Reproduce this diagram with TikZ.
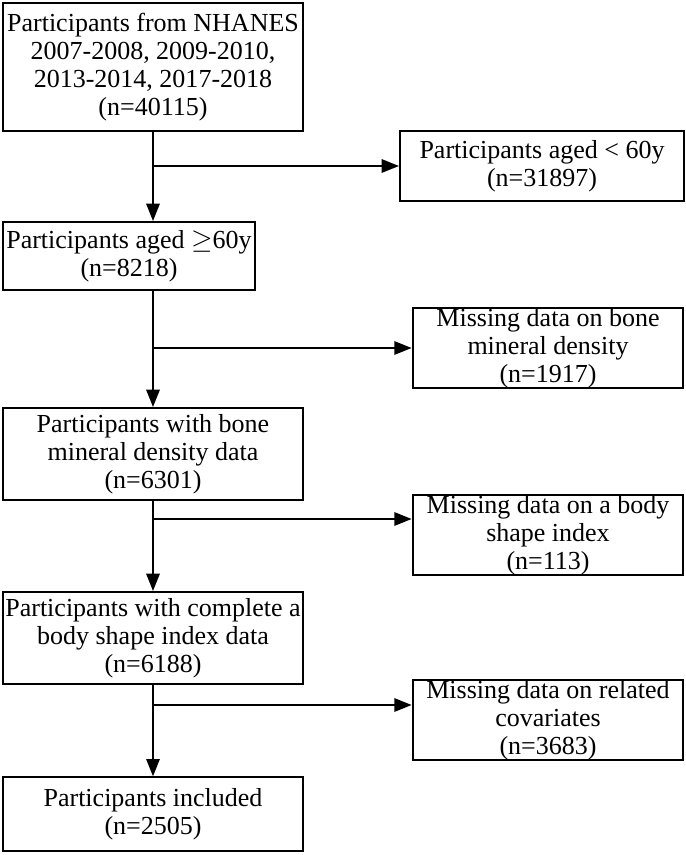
\documentclass[tikz,border=0pt]{standalone}
\usepackage{fontspec}
\setmainfont{Liberation Serif}
\usetikzlibrary{arrows.meta}
\tikzset{every picture/.style={line width=1.5pt}}
\tikzset{box/.style={draw, align=center, inner sep=0.5pt, font=\fontsize{19.5}{21}\selectfont}}
\tikzset{flow/.style={-{Triangle[length=13pt,width=10pt]}}}

\begin{document}
\begin{tikzpicture}[x=0.75pt,y=0.75pt,yscale=-1,xscale=1]
\useasboundingbox (0,0) rectangle (685,855);

% Main column
\node [box, minimum width=225pt, minimum height=96pt] (nhanes) at (153,67) {Participants from NHANES\\2007-2008, 2009-2010,\\2013-2014, 2017-2018\\(n=40115)};
\node [box, minimum width=189pt, minimum height=51pt] (aged) at (129,256) {Participants aged $\geq$60y\\(n=8218)};
\node [box, minimum width=225pt, minimum height=69pt] (bmd) at (153,454) {Participants with bone\\mineral density data\\(n=6301)};
\node [box, minimum width=225pt, minimum height=69pt] (absi) at (153,638) {Participants with complete a\\body shape index data\\(n=6188)};
\node [box, minimum width=225pt, minimum height=55pt] (incl) at (153,814) {Participants included\\(n=2505)};

% Exclusions
\node [box, minimum width=213pt, minimum height=52pt] (young) at (542,166) {Participants aged < 60y\\(n=31897)};
\node [box, minimum width=203pt, minimum height=55pt] (nobmd) at (548,348) {Missing data on bone\\mineral density\\(n=1917)};
\node [box, minimum width=203pt, minimum height=52pt] (noabsi) at (548,535) {Missing data on a body\\shape index\\(n=113)};
\node [box, minimum width=203pt, minimum height=55pt] (nocov) at (548,720) {Missing data on related\\covariates\\(n=3683)};

% Branch points
\coordinate (b1) at (153,166);
\coordinate (b2) at (153,348);
\coordinate (b3) at (153,519);
\coordinate (b4) at (153,705);

\draw [flow] (nhanes.south) -- (nhanes.south |- aged.north);
\draw [flow] (nhanes.south |- aged.south) -- (bmd.north);
\draw [flow] (bmd.south) -- (absi.north);
\draw [flow] (absi.south) -- (incl.north);

\draw [flow] (b1) -- (young.west);
\draw [flow] (b2) -- (nobmd.west);
\draw [flow] (b3) -- (b3 -| noabsi.west);
\draw [flow] (b4) -- (b4 -| nocov.west);

\end{tikzpicture}
\end{document}
